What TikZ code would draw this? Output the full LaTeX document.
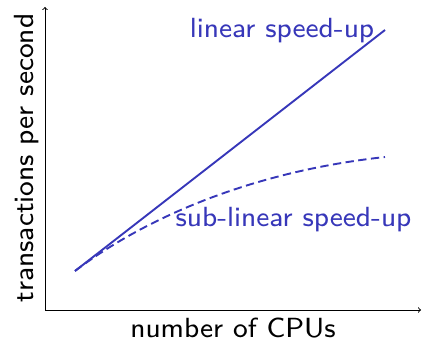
\documentclass[tikz,border=0pt]{standalone}
\usepackage{fontspec}
\setsansfont{lmsans8-regular.otf}
\definecolor{spblue}{RGB}{55,55,185}
\begin{document}
\begin{tikzpicture}[x=1pt,y=1pt,
  axisline/.style={line width=1pt,->,>=to},
  curvelin/.style={spblue,line width=1.9pt},
  curvesub/.style={spblue,line width=1.9pt,dash pattern=on 8.3pt off 4.5pt},
  lbl/.style={font=\sffamily\fontsize{27.7}{33}\selectfont,inner sep=0pt},
  bluelbl/.style={lbl,text=spblue}]
\useasboundingbox (0,0) rectangle (423,343);
\coordinate (O) at (45,33);
\coordinate (Ytop) at (45,336);
\coordinate (Xend) at (421,33);
\coordinate (S) at (75,72);
\coordinate (L) at (385,313);
\coordinate (D) at (385,186);
\draw[axisline] (O) -- (Ytop);
\draw[axisline] (O) -- (Xend);
\draw[curvelin] (S) -- (L);
\draw[curvesub] (S) .. controls (142,123) and (248,171) .. (D);
\node[bluelbl,anchor=base] (lin) at (282,305) {linear speed-up};
\node[bluelbl,anchor=base] (sub) at (293.5,116) {sub-linear speed-up};
\node[lbl,anchor=base] (xl) at (233,6) {number of CPUs};
\node[lbl,anchor=base,rotate=90] (yl) at (33,185) {transactions per second};
\end{tikzpicture}
\end{document}
